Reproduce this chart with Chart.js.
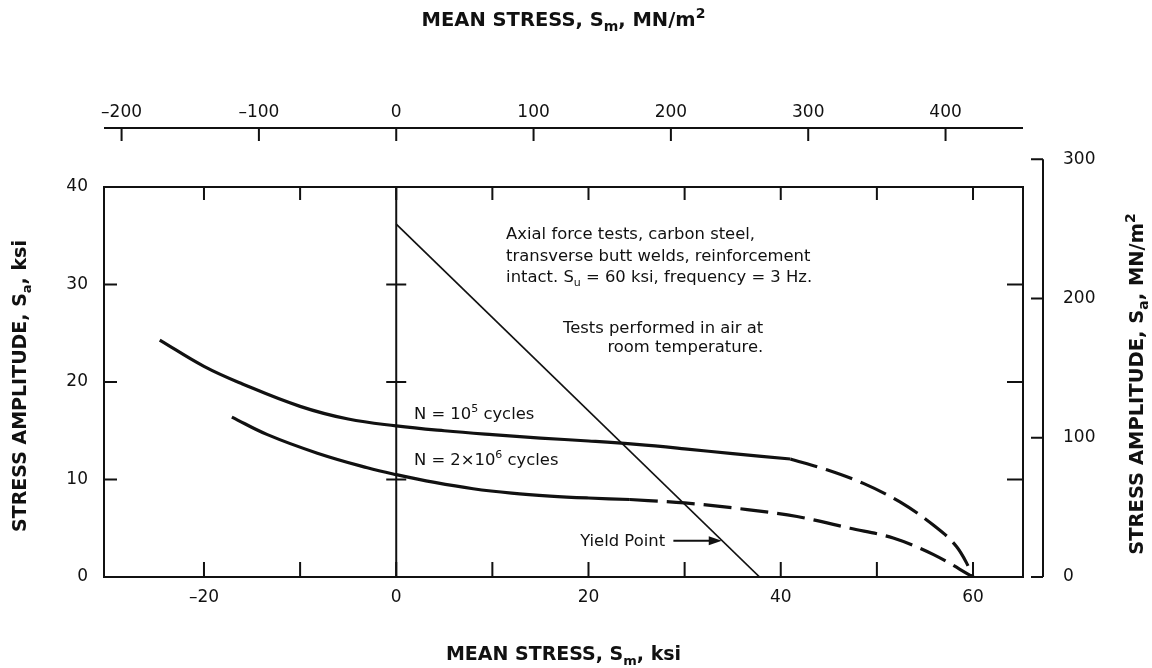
<!DOCTYPE html>
<html>
<head>
<meta charset="utf-8">
<script src="https://cdn.jsdelivr.net/npm/chart.js@4.4.0/dist/chart.umd.min.js"></script>
<style>
  html, body { margin: 0; padding: 0; background: #fff; }
  #wrap { width: 1152px; height: 668px; }
</style>
</head>
<body>
<div id="wrap"><canvas id="goodmanChart" width="1152" height="668"></canvas></div>
<script>
// curves: mean stress Sm (ksi) vs stress amplitude Sa (ksi)
const n1e5SolidSm = [-24.6, -20, -16, -10, -5, 0, 5, 10, 15, 20, 25, 30, 35, 41];
const n1e5SolidSa = [24.3, 21.6, 19.8, 17.5, 16.2, 15.5, 15.0, 14.6, 14.25, 13.95, 13.6, 13.15, 12.65, 12.1];
const n1e5DashSm = [41, 44.8, 48.6, 52.4, 55.9, 58.3, 59.3, 60];
const n1e5DashSa = [12.1, 11.0, 9.6, 7.7, 5.3, 3.1, 1.5, 0];

const n2e6SolidSm = [-17.1, -13.4, -8.2, -3, 0, 4, 8, 12, 16, 20, 24.3];
const n2e6SolidSa = [16.4, 14.6, 12.7, 11.2, 10.5, 9.7, 9.05, 8.6, 8.3, 8.1, 7.95];
const n2e6DashSm = [24.3, 30, 35.8, 41.7, 47.2, 51.7, 55.9, 60];
const n2e6DashSa = [7.95, 7.6, 7.0, 6.2, 5.0, 4.0, 2.3, 0];

const yieldSm = [0, 37.8];
const yieldSa = [36.2, 0];

// axes
const ksiRangeX = [-30.4, 65.2];
const ksiRangeY = [0, 40];
const mnPerKsi = 7.0; // as the two unit scales line up in the figure
const ksiLabelsX = [-20, 0, 20, 40, 60];
const ksiMarksX = [-20, -10, 0, 10, 20, 30, 40, 50, 60];
const ksiLabelsY = [0, 10, 20, 30, 40];
const ksiMarksY = [10, 20, 30];
const mnLabelsX = [-200, -100, 0, 100, 200, 300, 400];
const mnLabelsY = [0, 100, 200, 300];

const FAMILY = '"DejaVu Sans", Verdana, sans-serif';
const INK = '#111';

const pts = (xs, ys) => xs.map((x, i) => ({ x, y: ys[i] }));
const fmt = v => (v < 0 ? '\u2013' + Math.abs(v) : String(v));

// text with sub/superscripts: parts = [[text, 'sub'|'sup'|undefined], ...]
function drawRich(ctx, parts, x, y, align, size, weight) {
  const fontFor = p => `${weight} ${p[1] ? Math.round(size * 0.7) : size}px ${FAMILY}`;
  let total = 0;
  parts.forEach(p => { ctx.font = fontFor(p); total += ctx.measureText(p[0]).width; });
  let cx = align === 'center' ? x - total / 2 : align === 'right' ? x - total : x;
  ctx.textAlign = 'left';
  ctx.textBaseline = 'alphabetic';
  parts.forEach(p => {
    ctx.font = fontFor(p);
    const dy = p[1] === 'sub' ? size * 0.28 : p[1] === 'sup' ? -size * 0.42 : 0;
    ctx.fillText(p[0], cx, y + dy);
    cx += ctx.measureText(p[0]).width;
  });
}

const framePlugin = {
  id: 'frameAndNotes',
  afterDraw(chart) {
    const { ctx, chartArea: a } = chart;
    const xs = chart.scales.x, ys = chart.scales.y;
    const xm = chart.scales.xMn, ym = chart.scales.yMn;
    ctx.save();
    ctx.strokeStyle = INK;
    ctx.fillStyle = INK;
    ctx.lineCap = 'butt';

    // plot frame
    ctx.lineWidth = 2;
    ctx.strokeRect(a.left, a.top, a.right - a.left, a.bottom - a.top);

    // zero mean-stress line with cross ticks
    const x0 = xs.getPixelForValue(0);
    ctx.beginPath();
    ctx.moveTo(x0, a.top); ctx.lineTo(x0, a.bottom);
    ksiMarksY.forEach(v => {
      const py = ys.getPixelForValue(v);
      ctx.moveTo(x0 - 10, py); ctx.lineTo(x0 + 10, py);
    });
    ctx.stroke();

    // inner ticks on the frame
    ctx.beginPath();
    ksiMarksX.forEach(v => {
      const px = xs.getPixelForValue(v);
      ctx.moveTo(px, a.bottom); ctx.lineTo(px, a.bottom - 15);
      ctx.moveTo(px, a.top); ctx.lineTo(px, a.top + 13);
    });
    ksiMarksY.forEach(v => {
      const py = ys.getPixelForValue(v);
      ctx.moveTo(a.left, py); ctx.lineTo(a.left + 13, py);
      ctx.moveTo(a.right, py); ctx.lineTo(a.right - 16, py);
    });
    ctx.stroke();

    // MN/m2 axis on top, set off from the frame
    const topY = a.top - 59;
    ctx.beginPath();
    ctx.moveTo(a.left, topY); ctx.lineTo(a.right, topY);
    mnLabelsX.forEach(v => {
      const px = xm.getPixelForValue(v);
      ctx.moveTo(px, topY); ctx.lineTo(px, topY + 13);
    });
    ctx.stroke();

    // MN/m2 axis on the right, set off from the frame
    const rightX = a.right + 20;
    ctx.beginPath();
    ctx.moveTo(rightX, ym.getPixelForValue(0));
    ctx.lineTo(rightX, ym.getPixelForValue(mnLabelsY[mnLabelsY.length - 1]));
    mnLabelsY.forEach(v => {
      const py = ym.getPixelForValue(v);
      ctx.moveTo(rightX, py); ctx.lineTo(rightX - 12, py);
    });
    ctx.stroke();

    // axis titles
    const midX = (a.left + a.right) / 2, midY = (a.top + a.bottom) / 2;
    drawRich(ctx, [['MEAN STRESS, S'], ['m', 'sub'], [', MN/m'], ['2', 'sup']], midX, 26, 'center', 19.5, 'bold');
    drawRich(ctx, [['MEAN STRESS, S'], ['m', 'sub'], [', ksi']], midX, 660, 'center', 19, 'bold');
    ctx.save();
    ctx.translate(26, midY + 4);
    ctx.rotate(-Math.PI / 2);
    drawRich(ctx, [['STRESS AMPLITUDE, S'], ['a', 'sub'], [', ksi']], 0, 0, 'center', 19, 'bold');
    ctx.restore();
    ctx.save();
    ctx.translate(1143, midY + 2);
    ctx.rotate(-Math.PI / 2);
    drawRich(ctx, [['STRESS AMPLITUDE, S'], ['a', 'sub'], [', MN/m'], ['2', 'sup']], 0, 0, 'center', 19.5, 'bold');
    ctx.restore();

    // notes inside the plot (anchored in ksi)
    const X = v => xs.getPixelForValue(v), Y = v => ys.getPixelForValue(v);
    const fs = 16.4;
    drawRich(ctx, [['Axial force tests, carbon steel,']], X(11.43), Y(34.64), 'left', fs, 'normal');
    drawRich(ctx, [['transverse butt welds, reinforcement']], X(11.43), Y(32.44), 'left', fs, 'normal');
    drawRich(ctx, [['intact. S'], ['u', 'sub'], [' = 60 ksi, frequency = 3 Hz.']], X(11.43), Y(30.29), 'left', fs, 'normal');
    drawRich(ctx, [['Tests performed in air at']], X(38.18), Y(25.06), 'right', fs, 'normal');
    drawRich(ctx, [['room temperature.']], X(38.18), Y(23.08), 'right', fs, 'normal');
    drawRich(ctx, [['N = 10'], ['5', 'sup'], [' cycles']], X(1.84), Y(16.17), 'left', fs, 'normal');
    drawRich(ctx, [['N = 2\u00d710'], ['6', 'sup'], [' cycles']], X(1.84), Y(11.49), 'left', fs, 'normal');
    drawRich(ctx, [['Yield Point']], X(19.13), Y(3.18), 'left', fs, 'normal');

    // arrow to the yield line
    const ay = Y(3.72), ax1 = X(28.83), ax2 = X(33.86);
    ctx.lineWidth = 2;
    ctx.beginPath();
    ctx.moveTo(ax1, ay); ctx.lineTo(ax2 - 10, ay);
    ctx.stroke();
    ctx.beginPath();
    ctx.moveTo(ax2, ay); ctx.lineTo(ax2 - 13, ay - 4.5); ctx.lineTo(ax2 - 13, ay + 4.5);
    ctx.closePath();
    ctx.fill();

    ctx.restore();
  }
};

document.addEventListener('DOMContentLoaded', () => {
  try {
    Chart.defaults.font.family = FAMILY;
    Chart.defaults.font.size = 17;
    Chart.defaults.color = INK;

    const curve = (data, dash, width) => ({
      data,
      borderColor: INK,
      borderWidth: width,
      borderDash: dash,
      pointRadius: 0,
      showLine: true,
      fill: false,
      tension: 0.4
    });
    // the dashed run-outs drop steeply into Su, keep them from overshooting
    const runout = data => ({ ...curve(data, [28, 9], 3.2), cubicInterpolationMode: 'monotone' });

    const ctx = document.getElementById('goodmanChart').getContext('2d');
    new Chart(ctx, {
      type: 'scatter',
      data: {
        datasets: [
          curve(pts(n1e5SolidSm, n1e5SolidSa), [], 3.2),
          runout(pts(n1e5DashSm, n1e5DashSa)),
          curve(pts(n2e6SolidSm, n2e6SolidSa), [], 3.2),
          runout(pts(n2e6DashSm, n2e6DashSa)),
          { ...curve(pts(yieldSm, yieldSa), [], 1.7), tension: 0 }
        ]
      },
      options: {
        responsive: false,
        animation: false,
        layout: { padding: 0 },
        plugins: { legend: { display: false }, tooltip: { enabled: false } },
        scales: {
          x: {
            type: 'linear', position: 'bottom',
            min: ksiRangeX[0], max: ksiRangeX[1],
            afterBuildTicks: s => { s.ticks = ksiLabelsX.map(value => ({ value })); },
            afterFit: s => { s.height = 91; },
            ticks: { callback: fmt, padding: 10, autoSkip: false, maxRotation: 0 },
            grid: { display: false, drawTicks: false },
            border: { display: false }
          },
          y: {
            type: 'linear', position: 'left',
            min: ksiRangeY[0], max: ksiRangeY[1],
            afterBuildTicks: s => { s.ticks = ksiLabelsY.map(value => ({ value })); },
            afterFit: s => { s.width = 104; },
            ticks: { callback: fmt, padding: 16, autoSkip: false },
            grid: { display: false, drawTicks: false },
            border: { display: false }
          },
          xMn: {
            type: 'linear', position: 'top',
            min: ksiRangeX[0] * mnPerKsi, max: ksiRangeX[1] * mnPerKsi,
            afterBuildTicks: s => { s.ticks = mnLabelsX.map(value => ({ value })); },
            afterFit: s => { s.height = 187; },
            ticks: { callback: fmt, padding: 64, autoSkip: false, maxRotation: 0 },
            grid: { display: false, drawTicks: false },
            border: { display: false }
          },
          yMn: {
            type: 'linear', position: 'right',
            min: ksiRangeY[0] * mnPerKsi, max: ksiRangeY[1] * mnPerKsi,
            afterBuildTicks: s => { s.ticks = mnLabelsY.map(value => ({ value })); },
            afterFit: s => { s.width = 129; },
            ticks: { callback: fmt, padding: 40, autoSkip: false },
            grid: { display: false, drawTicks: false },
            border: { display: false }
          }
        }
      },
      plugins: [framePlugin]
    });
  } catch (err) {
    console.error('Error rendering chart:', err);
  }
});
</script>
</body>
</html>
